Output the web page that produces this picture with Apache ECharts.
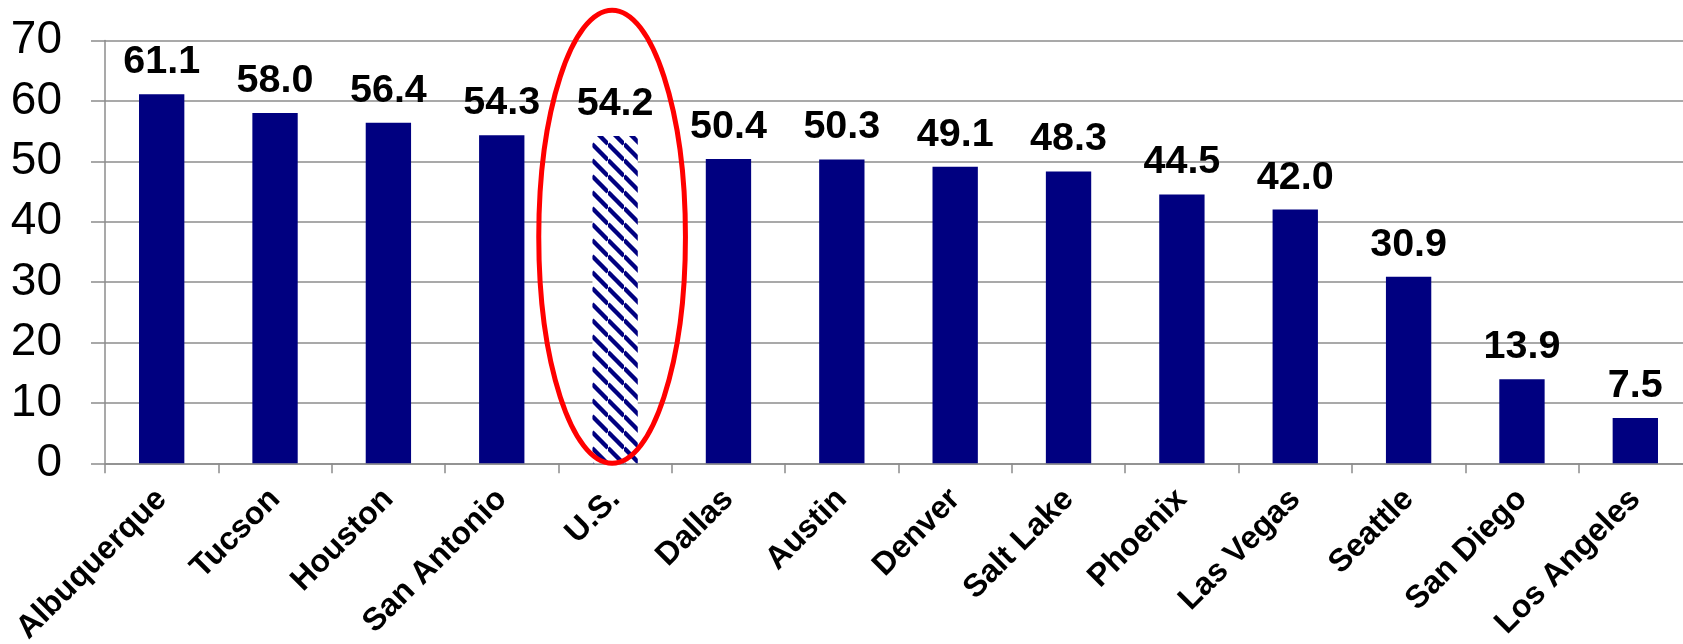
<!DOCTYPE html>
<html>
<head>
<meta charset="utf-8">
<script src="https://cdn.jsdelivr.net/npm/echarts@6/dist/echarts.min.js"></script>
<style>
html,body{margin:0;padding:0;background:#fff;}
#chart{width:1683px;height:644px;}
</style>
</head>
<body>
<div id="chart"></div>
<script>
const categories = ['Albuquerque','Tucson','Houston','San Antonio','U.S.','Dallas','Austin','Denver','Salt Lake','Phoenix','Las Vegas','Seattle','San Diego','Los Angeles'];
const values = [61.1, 58.0, 56.4, 54.3, 54.2, 50.4, 50.3, 49.1, 48.3, 44.5, 42.0, 30.9, 13.9, 7.5];
const highlightCategory = 'U.S.';
const yTicks = [0, 10, 20, 30, 40, 50, 60, 70];

const NAVY = '#000080';
const FONT = '"Liberation Sans", Arial, sans-serif';

// hatch pattern for the highlighted bar
const tile = document.createElement('canvas');
tile.width = 16; tile.height = 16;
const tc = tile.getContext('2d');
tc.fillStyle = '#fff';
tc.fillRect(0, 0, 16, 16);
tc.strokeStyle = NAVY;
tc.lineWidth = 4.4;
for (let k = -1; k <= 1; k++) {
  tc.beginPath();
  tc.moveTo(0, k * 16);
  tc.lineTo(16, 16 + k * 16);
  tc.stroke();
}

const hlIndex = categories.indexOf(highlightCategory);
const barData = values.map((v, i) => i === hlIndex
  ? { value: v, itemStyle: { color: { image: tile, repeat: 'repeat' } } }
  : v);

const chart = echarts.init(document.getElementById('chart'), null, { renderer: 'canvas' });
chart.setOption({
  animation: false,
  backgroundColor: '#fff',
  grid: { left: 105, right: -9, top: 40.5, bottom: 180.7, containLabel: false, outerBoundsMode: 'none' },
  xAxis: {
    type: 'category',
    data: categories,
    boundaryGap: true,
    axisLine: { show: true, lineStyle: { color: '#8c8c8c', width: 1.5 } },
    axisTick: { show: true, length: 10, inside: false, lineStyle: { color: '#8c8c8c', width: 1.5 } },
    axisLabel: {
      rotate: 45,
      interval: 0,
      margin: 31,
      color: '#000',
      fontFamily: FONT,
      fontWeight: 'bold',
      fontSize: 32
    }
  },
  yAxis: {
    type: 'value',
    min: yTicks[0],
    max: yTicks[yTicks.length - 1],
    interval: 10,
    axisLine: { show: true, lineStyle: { color: '#8c8c8c', width: 1.5 } },
    axisTick: { show: true, length: 14, inside: false, lineStyle: { color: '#8c8c8c', width: 1.5 } },
    splitLine: { show: true, lineStyle: { color: '#8c8c8c', width: 1.5 } },
    axisLabel: {
      margin: 43,
      color: '#000',
      fontFamily: FONT,
      fontSize: 46
    }
  },
  series: [
    {
      type: 'bar',
      data: barData,
      barWidth: '40%',
      itemStyle: { color: NAVY },
      label: {
        show: true,
        position: 'top',
        distance: 12,
        color: '#000',
        fontFamily: FONT,
        fontWeight: 'bold',
        fontSize: 39.5,
        formatter: p => Number(p.value).toFixed(1)
      },
      z: 2
    },
    {
      type: 'custom',
      clip: false,
      z: 5,
      silent: true,
      data: [[hlIndex, 0, 75]],
      renderItem: function (params, api) {
        const x = api.coord([api.value(0), api.value(1)])[0];
        const yBottom = api.coord([api.value(0), api.value(1)])[1];
        const yTop = api.coord([api.value(0), api.value(2)])[1];
        const catW = api.size([1, 0])[0];
        return {
          type: 'ellipse',
          shape: { cx: x - 3, cy: (yTop + yBottom) / 2, rx: catW * 0.647, ry: (yBottom - yTop) / 2 },
          style: { fill: null, stroke: '#ff0000', lineWidth: 5 }
        };
      }
    }
  ]
});
</script>
</body>
</html>
